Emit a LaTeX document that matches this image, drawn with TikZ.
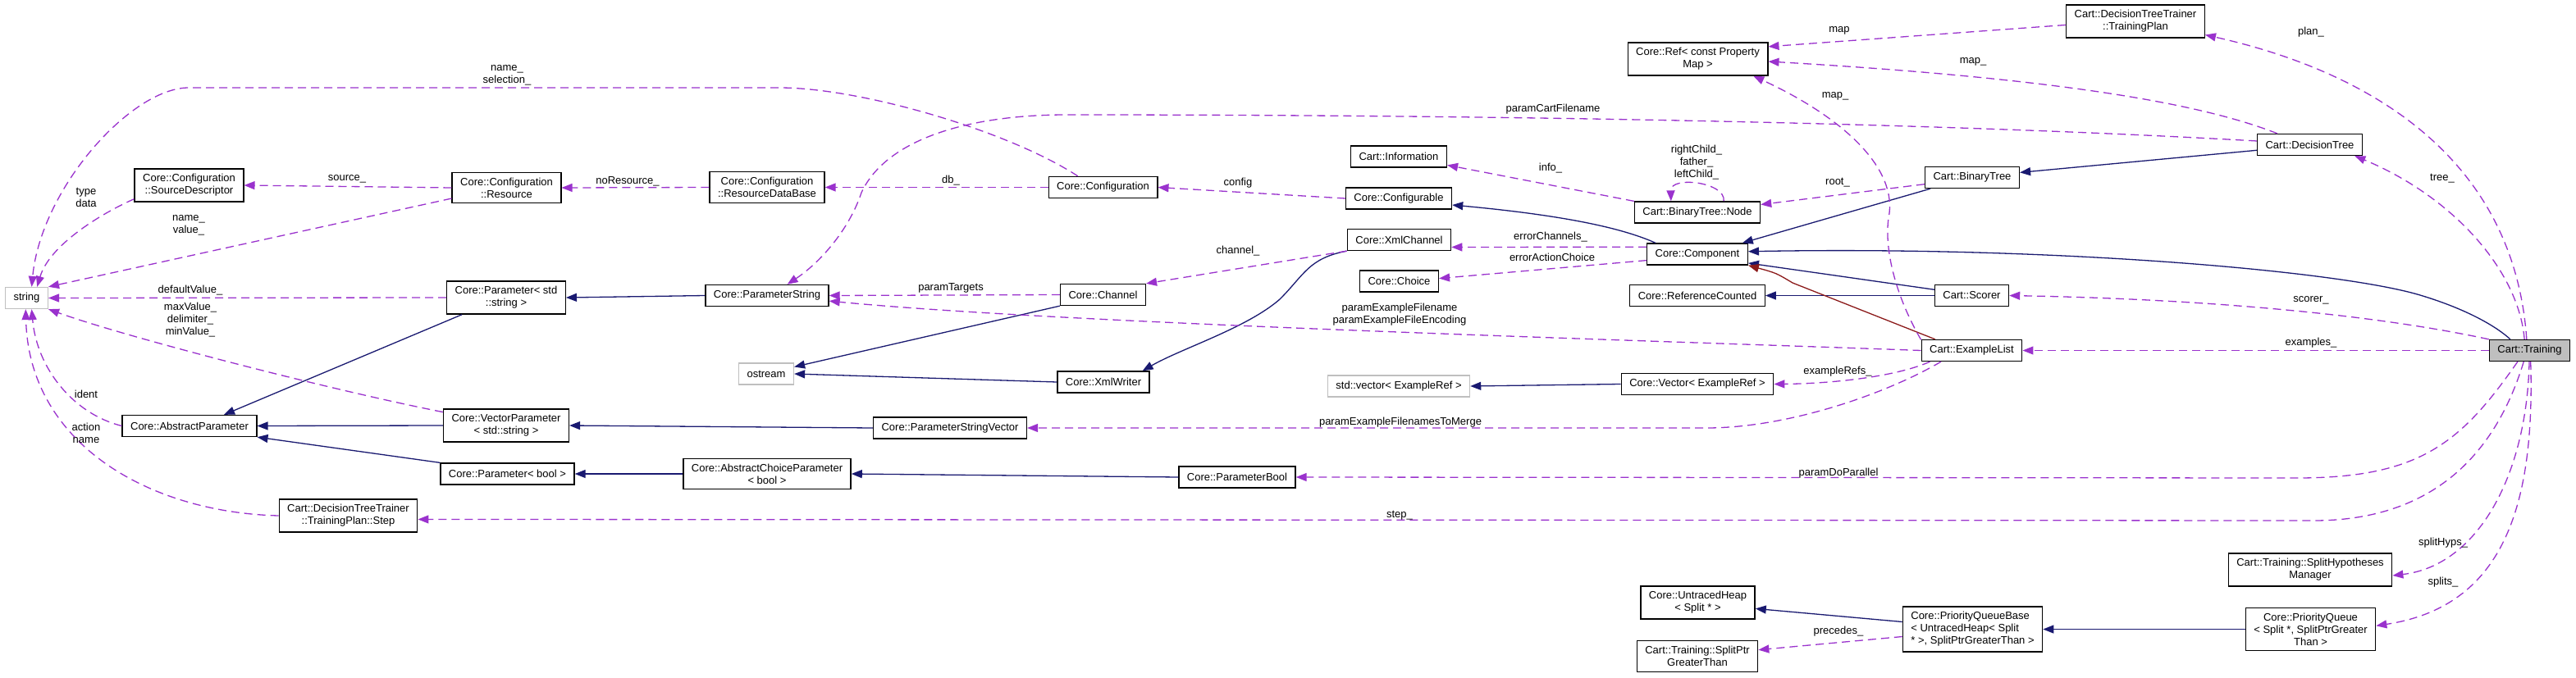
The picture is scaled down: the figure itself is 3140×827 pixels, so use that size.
\documentclass[tikz,border=0pt]{standalone}
\usepackage{fontspec}
\setmainfont{Liberation Sans}
\usetikzlibrary{arrows.meta}
\definecolor{edgeblue}{HTML}{191970}
\definecolor{edgepurple}{HTML}{9A32CD}
\definecolor{edgered}{HTML}{8B1A1A}
\definecolor{extgray}{HTML}{BFBFBF}
\tikzset{
    %Define standard arrow tip
    >={Triangle[length=13pt,width=10pt]},
    % class boxes
    cls/.style={
           draw=black,
           line width=1.3pt,
           fill=white,
           font=\fontsize{13}{15}\selectfont,
           inner xsep=10pt,
           inner ysep=6.5pt,
           minimum height=26pt,
           align=center},
    ext/.style={cls, draw=extgray},
    % Define edge styles
    inh/.style={->, draw=edgeblue, line width=1.3pt},
    priv/.style={->, draw=edgered, line width=1.3pt},
    use/.style={->, draw=edgepurple, line width=1.3pt,
           dash pattern=on 10pt off 6pt},
    lbl/.style={font=\fontsize{13}{15}\selectfont, inner sep=0pt, align=center}
}

\begin{document}
\begin{tikzpicture}[x=1pt,y=-1pt]

\useasboundingbox (0,0) rectangle (3140,827);

%%%%%%%%%%%%%%%%%%%%%%%%%%%%%%%%%

% first columns
\node[ext] (string) at (32.5,363.5) {string};
\node[cls] (srcdesc) at (230.5,226) {Core::Configuration\\::SourceDescriptor};
\node[cls] (abspar) at (231,519.5) {Core::AbstractParameter};
\node[cls] (step) at (424.5,629) {Cart::DecisionTreeTrainer\\::TrainingPlan::Step};
\node[cls] (resource) at (617.5,229) {Core::Configuration\\::Resource};
\node[cls] (paramstd) at (617,363) {Core::Parameter< std\\::string >};
\node[cls] (vecpar) at (617,519) {Core::VectorParameter\\< std::string >};
\node[cls] (parbool) at (618.5,578) {Core::Parameter< bool >};

% middle columns
\node[cls] (resdb) at (935,228.5) {Core::Configuration\\::ResourceDataBase};
\node[cls] (parstr) at (935,360.5) {Core::ParameterString};
\node[ext] (ostream) at (934,456) {ostream};
\node[cls] (abschoice) at (935,578) {Core::AbstractChoiceParameter\\< bool >};
\node[cls] (config) at (1344.5,228.5) {Core::Configuration};
\node[cls] (channel) at (1344.5,359.5) {Core::Channel};
\node[cls] (xmlwriter) at (1345,466) {Core::XmlWriter};
\node[cls] (parstrvec) at (1158,522) {Core::ParameterStringVector};
\node[cls] (parboolc) at (1508,582) {Core::ParameterBool};
\node[cls] (info) at (1705,191) {Cart::Information};
\node[cls] (configurable) at (1705,242) {Core::Configurable};
\node[cls] (xmlchannel) at (1705.5,292.5) {Core::XmlChannel};
\node[cls] (choice) at (1705.5,343) {Core::Choice};
\node[ext] (stdvec) at (1705,471) {std::vector< ExampleRef >};

% right columns
\node[cls] (ref) at (2069.5,72) {Core::Ref< const Property\\Map >};
\node[cls] (node) at (2069,259) {Cart::BinaryTree::Node};
\node[cls] (component) at (2069,310) {Core::Component};
\node[cls] (refcount) at (2069,360.5) {Core::ReferenceCounted};
\node[cls] (vector) at (2069,468.5) {Core::Vector< ExampleRef >};
\node[cls] (untraced) at (2069.5,735) {Core::UntracedHeap\\< Split * >};
\node[cls] (splitptr) at (2069,800.5) {Cart::Training::SplitPtr\\GreaterThan};
\node[cls] (binarytree) at (2404,216.5) {Cart::BinaryTree};
\node[cls] (scorer) at (2403.5,360.5) {Cart::Scorer};
\node[cls] (examplelist) at (2403.5,427.5) {Cart::ExampleList};
\node[cls, align=left] (pqbase) at (2404.5,767.5) {Core::PriorityQueueBase\\< UntracedHeap< Split\\ * >, SplitPtrGreaterThan >};
\node[cls] (trainplan) at (2603,26) {Cart::DecisionTreeTrainer\\::TrainingPlan};
\node[cls] (dtree) at (2815.5,176.5) {Cart::DecisionTree};
\node[cls] (splithyp) at (2816,695) {Cart::Training::SplitHypotheses\\Manager};
\node[cls] (pqueue) at (2816.5,767.5) {Core::PriorityQueue\\< Split *, SplitPtrGreater\\Than >};
\node[cls, fill=extgray] (training) at (3083.5,427.5) {Cart::Training};

% inheritance
\draw[inh] (paramstd.201) -- (abspar.18);
\draw[inh] (vecpar.west) -- (abspar.east);
\draw[inh] (parbool.north west) -- (abspar.south east);
\draw[inh] (parstr.west) -- (paramstd.east);
\draw[inh] (parstrvec.west) -- (vecpar.east);
\draw[inh] (abschoice.west) -- (parbool.east);
\draw[inh] (parboolc.west) -- (abschoice.east);
\draw[inh] (channel.south west) -- (ostream.14);
\draw[inh] (xmlwriter.west) -- (ostream.east);
\draw[inh] (xmlchannel.south west) .. controls (1595,315) and (1590,335) .. (1560,365)
           .. controls (1520,400) and (1440,425) .. (xmlwriter.16);
\draw[inh] (component.165) .. controls (1975,277) and (1900,262) .. (configurable.-7);
\draw[inh] (binarytree.195) -- (component.14);
\draw[inh] (scorer.171) -- (component.-10);
\draw[inh] (training.150) .. controls (3045,400) and (3010,378) .. (2950,360)
           .. controls (2850,330) and (2500,300) .. (component.3);
\draw[inh] (scorer.west) -- (refcount.east);
\draw[inh] (dtree.186) -- (binarytree.6);
\draw[inh] (vector.west) -- (stdvec.east);
\draw[inh] (pqbase.174) -- (untraced.-6);
\draw[inh] (pqueue.west) -- (pqbase.east);
\draw[priv] (examplelist.163) -- (2185,345) .. controls (2165,333) .. (component.south east);

% usage
\draw[use] (srcdesc.194) .. controls (120,262) and (60,300) .. (string.47);
\draw[use] (resource.191) -- (string.north east);
\draw[use] (resource.west) -- (srcdesc.east);
\draw[use] (resdb.west) -- (resource.east);
\draw[use] (config.west) -- (resdb.east);
\draw[use] (config.156) .. controls (1230,160) and (1050,107) .. (950,107) -- (230,107)
           .. controls (160,107) and (50,230) .. (string.66);
\draw[use] (configurable.west) -- (config.east);
\draw[use] (paramstd.west) -- (string.east);
\draw[use] (vecpar.168) .. controls (400,475) and (150,410) .. (string.south east);
\draw[use] (abspar.west) .. controls (90,505) and (45,450) .. (string.-66);
\draw[use] (step.west) .. controls (180,625) and (35,540) .. (string.-95);
\draw[use] (channel.west) -- (parstr.east);
\draw[use] (xmlchannel.south west) -- (channel.north east);
\draw[use] (component.172) -- (xmlchannel.-8);
\draw[use] (component.187) -- (choice.4);
\draw[use] (examplelist.west) .. controls (2000,415) and (1300,395) .. (parstr.-5);
\draw[use] (examplelist.195) .. controls (2310,460) and (2230,468) .. (vector.east);
\draw[use] (examplelist.200) .. controls (2300,480) and (2180,522) .. (2080,522) -- (parstrvec.east);
\draw[use] (examplelist.168) .. controls (2310,360) and (2295,300) .. (2303,260)
           .. controls (2310,200) and (2240,140) .. (ref.-17);
\draw[use] (node.170) -- (info.-10);
\draw[use] (node.23) .. controls (2104,222) and (2036,214) .. (node.157);
\draw[use] (binarytree.188) -- (node.7);
\draw[use] (dtree.176) .. controls (2400,152) and (1900,140) .. (1300,140)
           .. controls (1180,140) and (1080,170) .. (1050,235)
           .. controls (1035,280) and (1000,320) .. (parstr.29);
\draw[use] (dtree.161) .. controls (2680,125) and (2500,95) .. (ref.-2);
\draw[use] (trainplan.183) -- (ref.10);
\draw[use] (training.105) .. controls (3065,200) and (2900,90) .. (trainplan.-11);
\draw[use] (training.115) .. controls (3070,330) and (2990,240) .. (dtree.-14);
\draw[use] (training.north west) .. controls (2900,385) and (2700,365) .. (scorer.east);
\draw[use] (training.west) -- (examplelist.east);
\draw[use] (training.223) .. controls (3000,540) and (2950,583) .. (2800,583) -- (parboolc.east);
\draw[use] (training.242) .. controls (3040,560) and (2960,635) .. (2820,635) -- (step.-3);
\draw[use] (training.-92) .. controls (3080,580) and (3020,690) .. (splithyp.-4);
\draw[use] (training.-85) .. controls (3090,620) and (3050,740) .. (pqueue.3);
\draw[use] (pqbase.186) -- (splitptr.6);

% labels
\path (105,240.5)  node[lbl] (ltype) {type\\data}
      (230,274.5)  node[lbl] (lnameval) {name\_\\value\_}
      (423,218)    node[lbl] (lsource) {source\_}
      (765,221)    node[lbl] (lnores) {noResource\_}
      (1159,220)   node[lbl] (ldb) {db\_}
      (1509,223)   node[lbl] (lconfig) {config}
      (618,92)     node[lbl] (lnamesel) {name\_\\selection\_}
      (232,354)    node[lbl] (ldefault) {defaultValue\_}
      (232,390)    node[lbl] (lmaxval) {maxValue\_\\delimiter\_\\minValue\_}
      (105,481)    node[lbl] (lident) {ident}
      (105,528)    node[lbl] (laction) {action\\name}
      (1159,351)   node[lbl] (ltargets) {paramTargets}
      (1509,306)   node[lbl] (lchannel) {channel\_}
      (1893,133)   node[lbl] (lcartfile) {paramCartFilename}
      (2242,37)    node[lbl] (lmap) {map}
      (2405,75)    node[lbl] (lmapdt) {map\_}
      (2237,117)   node[lbl] (lmapex) {map\_}
      (1890,205)   node[lbl] (linfo) {info\_}
      (2068,198.5) node[lbl] (lchild) {rightChild\_\\father\_\\leftChild\_}
      (2240,223)   node[lbl] (lroot) {root\_}
      (1890,289)   node[lbl] (lerrch) {errorChannels\_}
      (1892,314)   node[lbl] (lerrac) {errorActionChoice}
      (1706,384)   node[lbl] (lexfile) {paramExampleFilename\\paramExampleFileEncoding}
      (2240,453)   node[lbl] (lexrefs) {exampleRefs\_}
      (1707,515)   node[lbl] (lmerge) {paramExampleFilenamesToMerge}
      (2241,577)   node[lbl] (lparallel) {paramDoParallel}
      (1706,629)   node[lbl] (lstep) {step\_}
      (2241,770)   node[lbl] (lprecedes) {precedes\_}
      (2817,39)    node[lbl] (lplan) {plan\_}
      (2977,218)   node[lbl] (ltree) {tree\_}
      (2817,366)   node[lbl] (lscorer) {scorer\_}
      (2817,418)   node[lbl] (lexamples) {examples\_}
      (2978,662)   node[lbl] (lsplithyps) {splitHyps\_}
      (2978,710)   node[lbl] (lsplits) {splits\_};

\end{tikzpicture}
\end{document}
